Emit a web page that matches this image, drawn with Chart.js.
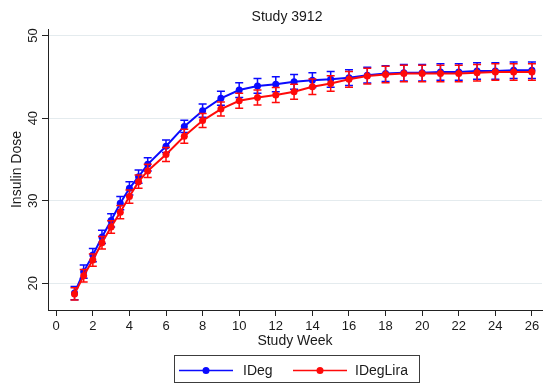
<!DOCTYPE html>
<html>
<head>
<meta charset="utf-8">
<title>Study 3912</title>
<script src="https://cdn.jsdelivr.net/npm/chart.js@4.4.1/dist/chart.umd.min.js"></script>
<style>
  html, body { margin: 0; padding: 0; background: #fff; }
  #chart { display: block; }
</style>
</head>
<body>
<canvas id="chart" width="546" height="383"></canvas>
<script>
// visit weeks: every half week up to week 5, then weekly
const weeks = [1, 1.5, 2, 2.5, 3, 3.5, 4, 4.5, 5, 6, 7, 8, 9, 10, 11, 12, 13, 14, 15, 16, 17, 18, 19, 20, 21, 22, 23, 24, 25, 26];

// mean insulin dose per arm
const idegDose = [18.8, 21.4, 23.4, 25.6, 27.6, 29.7, 31.5, 32.9, 34.4, 36.6, 39.0, 40.9, 42.4, 43.4, 43.9, 44.1, 44.4, 44.6, 44.7, 44.9, 45.2, 45.4, 45.5, 45.5, 45.6, 45.6, 45.7, 45.7, 45.8, 45.8];
const idegLiraDose = [18.7, 20.9, 22.8, 24.9, 26.8, 28.6, 30.5, 32.3, 33.6, 35.6, 37.8, 39.7, 41.1, 42.1, 42.5, 42.8, 43.2, 43.8, 44.2, 44.7, 45.1, 45.3, 45.4, 45.4, 45.4, 45.4, 45.5, 45.6, 45.6, 45.6];

// standard error at each visit
const idegErr = [0.8, 0.8, 0.8, 0.8, 0.8, 0.8, 0.8, 0.8, 0.8, 0.75, 0.75, 0.8, 0.85, 0.9, 0.9, 0.9, 0.9, 0.9, 0.95, 0.95, 0.95, 0.95, 1.0, 1.0, 1.0, 1.0, 1.0, 1.0, 1.0, 1.0];
const idegLiraErr = [0.75, 0.75, 0.75, 0.75, 0.75, 0.8, 0.8, 0.8, 0.8, 0.85, 0.85, 0.85, 0.85, 0.9, 0.9, 0.9, 0.9, 0.95, 0.95, 0.95, 0.95, 1.0, 1.0, 1.0, 1.0, 1.0, 1.0, 1.0, 1.0, 1.0];

const xTickLabels = [0, 2, 4, 6, 8, 10, 12, 14, 16, 18, 20, 22, 24, 26];
const yTickLabels = [20, 30, 40, 50];

const FONT = '"Liberation Sans", Arial, sans-serif';
const TEXT = '#1a1a1a';
const AXIS = '#222';

function series(doses) {
  return weeks.map((w, i) => ({ x: w, y: doses[i] }));
}

// vertical error bars with caps, drawn right after each dataset
const errorBars = {
  id: 'errorBars',
  afterDatasetDraw(chart, args) {
    const ds = chart.data.datasets[args.index];
    if (!ds.errors) return;
    const { ctx, scales: { x, y } } = chart;
    ctx.save();
    ctx.strokeStyle = ds.borderColor;
    ctx.lineWidth = 1.5;
    ds.data.forEach((pt, i) => {
      const px = x.getPixelForValue(pt.x);
      const top = y.getPixelForValue(pt.y + ds.errors[i]);
      const bot = y.getPixelForValue(pt.y - ds.errors[i]);
      ctx.beginPath();
      ctx.moveTo(px, top);
      ctx.lineTo(px, bot);
      ctx.moveTo(px - 4, top);
      ctx.lineTo(px + 4, top);
      ctx.moveTo(px - 4, bot);
      ctx.lineTo(px + 4, bot);
      ctx.stroke();
    });
    ctx.restore();
  }
};

// title, rotated y labels and y title
const axisText = {
  id: 'axisText',
  afterDraw(chart) {
    const { ctx, chartArea, scales: { y } } = chart;
    ctx.save();
    ctx.fillStyle = TEXT;
    ctx.textAlign = 'center';
    ctx.textBaseline = 'middle';

    ctx.font = '14px ' + FONT;
    ctx.fillText('Study 3912', 287, 17);

    ctx.font = '13px ' + FONT;
    yTickLabels.forEach(v => {
      ctx.save();
      ctx.translate(33, y.getPixelForValue(v));
      ctx.rotate(-Math.PI / 2);
      ctx.fillText(String(v), 0, 0);
      ctx.restore();
    });

    ctx.font = '14px ' + FONT;
    ctx.translate(17, (chartArea.top + chartArea.bottom) / 2);
    ctx.rotate(-Math.PI / 2);
    ctx.fillText('Insulin Dose', 0, 0);
    ctx.restore();
  }
};

// boxed legend with line + marker samples
const legendBox = {
  id: 'legendBox',
  afterDraw(chart) {
    const { ctx } = chart;
    const lineY = 370.5;
    const slots = [[179, 243], [293, 355]];
    ctx.save();
    ctx.strokeStyle = '#3c3c3c';
    ctx.lineWidth = 1;
    ctx.strokeRect(174.5, 355.5, 245, 27);
    ctx.font = '14px ' + FONT;
    ctx.textBaseline = 'middle';
    chart.data.datasets.forEach((ds, i) => {
      const [x0, tx] = slots[i];
      ctx.strokeStyle = ds.borderColor;
      ctx.lineWidth = 1.5;
      ctx.beginPath();
      ctx.moveTo(x0, lineY);
      ctx.lineTo(x0 + 54, lineY);
      ctx.stroke();
      ctx.fillStyle = ds.borderColor;
      ctx.beginPath();
      ctx.arc(x0 + 27, lineY, 3.5, 0, Math.PI * 2);
      ctx.fill();
      ctx.fillStyle = TEXT;
      ctx.fillText(ds.label, tx, lineY + 0.5);
    });
    ctx.restore();
  }
};

new Chart(document.getElementById('chart'), {
  type: 'line',
  data: {
    datasets: [
      {
        label: 'IDeg',
        data: series(idegDose),
        errors: idegErr,
        borderColor: '#0a0aff',
        backgroundColor: '#0a0aff',
        borderWidth: 2,
        pointRadius: 3.5,
        pointBorderWidth: 0,
        order: 1
      },
      {
        label: 'IDegLira',
        data: series(idegLiraDose),
        errors: idegLiraErr,
        borderColor: '#ff0a0a',
        backgroundColor: '#ff0a0a',
        borderWidth: 2,
        pointRadius: 3.5,
        pointBorderWidth: 0,
        order: 0
      }
    ]
  },
  options: {
    responsive: false,
    animation: false,
    layout: { padding: { top: 29, left: 42, right: 3, bottom: 35 } },
    plugins: {
      legend: { display: false },
      title: { display: false },
      tooltip: { enabled: false }
    },
    scales: {
      x: {
        type: 'linear',
        min: -0.45,
        max: 26.55,
        afterBuildTicks: s => { s.ticks = xTickLabels.map(v => ({ value: v })); },
        grid: { drawOnChartArea: false, drawTicks: true, tickLength: 6, tickColor: AXIS },
        border: { display: true, color: AXIS, width: 1 },
        ticks: {
          color: TEXT,
          font: { family: FONT, size: 13, lineHeight: 1 },
          padding: 4,
          maxRotation: 0,
          autoSkip: false
        },
        title: {
          display: true,
          text: 'Study Week',
          color: TEXT,
          font: { family: FONT, size: 14, lineHeight: 1 },
          padding: { top: -3, bottom: 0 }
        }
      },
      y: {
        min: 16.75,
        max: 50.8,
        afterBuildTicks: s => { s.ticks = yTickLabels.map(v => ({ value: v })); },
        grid: { color: '#e4ebee', tickColor: AXIS, tickLength: 6 },
        border: { display: true, color: AXIS, width: 1 },
        ticks: { display: false }
      }
    }
  },
  plugins: [errorBars, axisText, legendBox]
});
</script>
</body>
</html>
